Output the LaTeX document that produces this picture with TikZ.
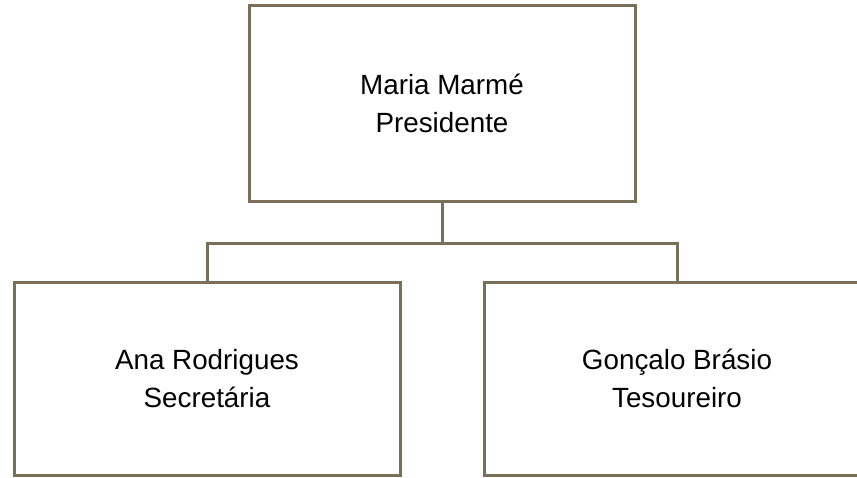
\documentclass[tikz,border=0pt]{standalone}
\usepackage{fontspec}
\setmainfont{Liberation Sans}
\usepackage{tikz}
\usetikzlibrary{positioning}
\definecolor{boxline}{RGB}{122,112,90}

\begin{document}
\begin{tikzpicture}[x=0.5pt,y=-0.5pt,node distance=2cm,on grid,
    member/.style={draw=boxline,line width=1.5pt,rectangle,align=center,
      minimum width=193pt,minimum height=96.5pt,
      font=\fontsize{13.9}{19}\selectfont},
    link/.style={draw=boxline,line width=1.5pt}]
   \useasboundingbox (0,0) rectangle (857,477);
   \node[member,minimum height=98pt] (pres) at (442,103) {Maria Marmé\\Presidente};
   \node[member] (sec) [below left=137.75pt and 117.5pt of pres] {Ana Rodrigues\\Secretária};
   \node[member] (tes) [right=235pt of sec] {Gonçalo Brásio\\Tesoureiro};

    \draw[link] (pres.south) -- ++(0,41) coordinate (split) -| (sec.north);
    \draw[link] (split) -| (tes.north);
\end{tikzpicture}
\end{document}
